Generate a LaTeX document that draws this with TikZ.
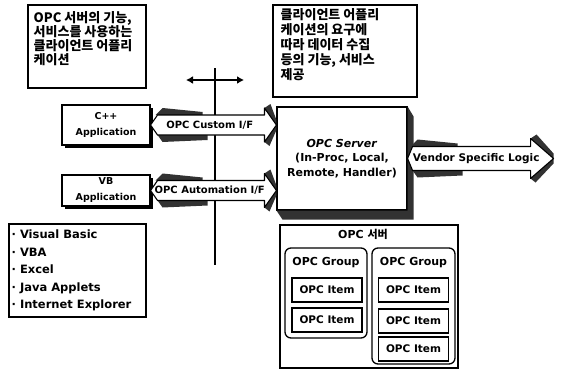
\documentclass[tikz,border=0pt]{standalone}
\usepackage{fontspec}
\setmainfont{DejaVu Sans}
\newfontfamily\krfont{Noto Sans CJK KR}
\usepackage{tikz}
\usetikzlibrary{arrows.meta,calc,shadows}
\definecolor{halftone}{RGB}{50,50,50}

% fat 3-D arrow: tail, tip, body half height, head half height, head length, tail length, label
\newcommand{\fatarrow}[7]{%
  \fill[halftone] ($(#1)+(#6-2,-#3)$) -- ($(#1)+(#6+5,-#3-7)$) -- ($(#1)+(#6+45,-#3-3)$) -- ($(#1)+(#6+45,-#3)$) -- cycle;
  \fill[halftone] ($(#1)+(#6,#3)$) -- ($(#1)+(#6+5,#3+7)$) -- ($(#1)+(#6+50,#3+5)$) -- ($(#1)+(#6+50,#3)$) -- cycle;
  \fill[halftone] ($(#2)+(-#5,-#4)$) -- ($(#2)+(-#5+6,-#4-4)$) -- ($(#2)+(0,-5)$) -- (#2) -- cycle;
  \fill[halftone] ($(#2)+(-#5,#4)$) -- ($(#2)+(-#5+5,#4+4)$) -- ($(#2)+(0,5)$) -- (#2) -- cycle;
  \draw[line width=1.1pt,fill=white,line join=round] (#1) -- ($(#1)+(#6,-#3)$) -- ($(#2)+(-#5,-#3)$)
    -- ($(#2)+(-#5,-#4)$) -- (#2) -- ($(#2)+(-#5,#4)$) -- ($(#2)+(-#5,#3)$) -- ($(#1)+(#6,#3)$) -- cycle;
  \node[iflab] at ($(#1)!0.47!(#2)$) {#7};
}

\begin{document}
\begin{tikzpicture}[x=1pt,y=-1pt,
  box/.style={draw,line width=1.1pt,fill=white,inner sep=0pt},
  appbox/.style={box,drop shadow={shadow xshift=3pt,shadow yshift=-3pt,fill=black,opacity=1},
    font=\bfseries\fontsize{9.5}{16}\selectfont,align=center},
  note/.style={font=\krfont\bfseries\fontsize{13}{14}\selectfont,align=left,anchor=north west,inner sep=0pt},
  iflab/.style={font=\bfseries\fontsize{10}{12}\selectfont},
  group/.style={draw,line width=1.3pt,rounded corners=6pt,fill=white},
  item/.style={draw,line width=1.3pt,fill=white,minimum width=70,minimum height=24,inner sep=0pt,
    font=\bfseries\fontsize{10.5}{12}\selectfont},
  grouplab/.style={font=\bfseries\fontsize{11}{12}\selectfont}
]
\useasboundingbox (0,0) rectangle (562,372);

% notes
\node[box,minimum width=118,minimum height=83] (usernote) at (87,46.5) {};
\node[note] (usertext) at ($(usernote.north west)+(6,7)$) {OPC 서버의 기능,\\서비스를 사용하는\\클라이언트 어플리\\케이션};
\node[box,minimum width=144,minimum height=92] (servernote) at (345,51) {};
\node[note,font=\krfont\bfseries\fontsize{13}{15}\selectfont] (servertext) at ($(servernote.north west)+(8,4)$) {클라이언트 어플리\\케이션의 요구에\\따라 데이터 수집\\등의 기능, 서비스\\제공};

% interface boundary
\coordinate (bndtop) at (215,68);
\coordinate (bndbot) at (215,265);
\coordinate (bndl) at (186,80);
\coordinate (bndr) at (244,80);
\draw[line width=1.6pt] (bndtop) -- (bndbot);
\draw[line width=1.6pt,{Latex[length=7pt,width=8pt]}-{Latex[length=7pt,width=8pt]}] (bndl) -- (bndr);

% applications
\node[appbox,minimum width=88,minimum height=40] (cpp) at (106,125) {C++\\Application};
\node[appbox,minimum width=88,minimum height=31] (vb) at (106,190.5) {VB\\Application};

% server
\node[box,minimum width=130,minimum height=103,font=\bfseries\fontsize{11}{14.5}\selectfont,align=center]
  (server) at (342,158.5) {\textit{OPC Server}\\(In-Proc, Local,\\Remote, Handler)};
\fill[halftone] (server.south west) -- ($(server.south west)+(6,9)$) -- ($(server.south east)+(6,9)$)
  -- ($(server.north east)+(6,10)$) -- (server.north east) -- (server.south east) -- cycle;
\coordinate (logicend) at ($(server.east)+(146,0)$);

% interfaces
\fatarrow{cpp.east}{server.west |- cpp.east}{10}{17}{12}{7}{OPC Custom I/F}
\fatarrow{vb.east}{server.west |- vb.east}{10}{17}{12}{7}{OPC Automation I/F}
\begin{scope}[iflab/.style={font=\bfseries\fontsize{10.5}{12}\selectfont}]
\fatarrow{server.east}{logicend}{12}{20}{23}{5}{Vendor Specific Logic}
\end{scope}

% client list
\node[box,minimum width=137,minimum height=93] (clients) at (77.5,270.5) {};
\node[font=\bfseries\fontsize{11.5}{17.5}\selectfont,align=left,anchor=west,inner sep=0pt] (clienttext)
  at ($(clients.west)+(3,0)$) {·\hspace{4pt}Visual Basic\\·\hspace{4pt}VBA\\·\hspace{4pt}Excel\\·\hspace{4pt}Java Applets\\·\hspace{4pt}Internet Explorer};

% OPC server objects
\node[box,minimum width=178,minimum height=143] (opcsrv) at (369,296.5) {};
\node[grouplab] (opcsrvlab) at ($(opcsrv.north)+(-6,10)$) {OPC {\krfont\bfseries 서버}};
\node[group,minimum width=82,minimum height=90] (grpa) at (326,293) {};
\node[group,minimum width=83,minimum height=116] (grpb) at (413.5,306) {};
\node[grouplab] (grpalab) at ($(grpa.north)+(0,15)$) {OPC Group};
\node[grouplab] (grpblab) at ($(grpb.north)+(0,15)$) {OPC Group};
\foreach \y [count=\i] in {290,320}
  \node[item] (itema\i) at (327,\y) {OPC Item};
\foreach \y [count=\i] in {290,321,349}
  \node[item] (itemb\i) at (413.5,\y) {OPC Item};
\end{tikzpicture}
\end{document}
